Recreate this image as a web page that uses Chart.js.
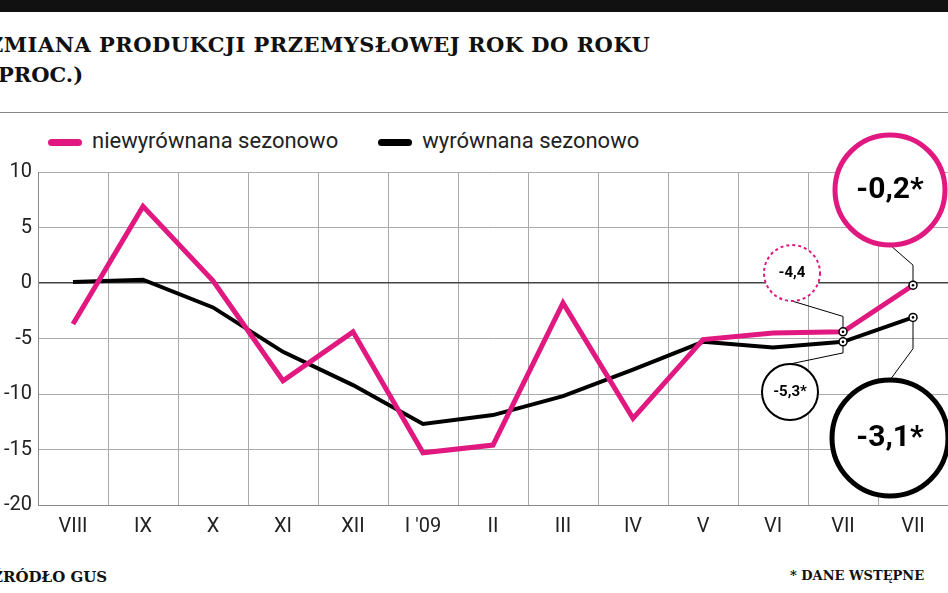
<!DOCTYPE html>
<html><head><meta charset="utf-8">
<script src="https://cdn.jsdelivr.net/npm/chart.js@4"></script>
<style>
body{margin:0;width:948px;height:593px;overflow:hidden;background:#fff;position:relative;font-family:"Liberation Sans Narrow","Roboto Condensed",Roboto,sans-serif}
#bar{position:absolute;left:0;top:0;width:948px;height:12px;background:#111}
.t{position:absolute;font-family:"DejaVu Serif",serif;font-weight:bold;color:#111;white-space:nowrap}
#rule{position:absolute;left:0;top:112px;width:948px;height:1px;background:#888}
#leg{position:absolute;top:128px;left:48px;font-family:Roboto,sans-serif;font-size:22px;color:#222;white-space:nowrap}
.sw{display:inline-block;width:34px;height:7px;border-radius:4px;vertical-align:middle;margin-right:10px}
canvas{position:absolute;left:0;top:0}
</style></head><body>
<div id="bar"></div>
<div class="t" style="left:-12px;top:32px;font-size:21px;letter-spacing:0.5px">ZMIANA PRODUKCJI PRZEMYSŁOWEJ ROK DO ROKU</div>
<div class="t" style="left:-12px;top:62px;font-size:21px">(PROC.)</div>
<div id="rule"></div>
<div id="leg"><span class="sw" style="background:#e0187f"></span>niewyrównana sezonowo<span class="sw" style="background:#000;margin-left:40px"></span>wyrównana sezonowo</div>
<div class="t" style="left:-8px;top:568px;font-size:15px">ŹRÓDŁO GUS</div>
<div class="t" style="left:790px;top:568px;font-size:13px">* DANE WSTĘPNE</div>
<canvas id="c" width="948" height="593"></canvas>
<script>
const categories=["VIII","IX","X","XI","XII","I '09","II","III","IV","V","VI","VII","VII"];
const unadjusted=[-3.7,6.9,0.2,-8.8,-4.4,-15.3,-14.6,-1.8,-12.2,-5.1,-4.5,-4.4,-0.2];
const adjusted=[0.1,0.3,-2.2,-6.2,-9.2,-12.7,-11.9,-10.2,-7.8,-5.3,-5.8,-5.3,-3.1];
const yTicks=[10,5,0,-5,-10,-15,-20];
const notes=[{ds:0,i:11,text:"-4,4",cx:792,cy:273,r:28,color:"#e0187f",dash:true,size:15},
 {ds:1,i:11,text:"-5,3*",cx:790,cy:392,r:28,color:"#000",dash:false,size:15},
 {ds:0,i:12,text:"-0,2*",cx:890,cy:190,r:55,color:"#e0187f",dash:false,size:30},
 {ds:1,i:12,text:"-3,1*",cx:890,cy:438,r:58,color:"#000",dash:false,size:30}];
const ann={id:'ann',afterDatasetsDraw(ch){const c=ch.ctx;
 notes.forEach(n=>{const p=ch.getDatasetMeta(n.ds).data[n.i];c.save();
  c.strokeStyle="#000";c.lineWidth=1;c.beginPath();c.moveTo(p.x,p.y);
  const ey=n.cy>p.y?n.cy-n.r:n.cy+n.r;c.lineTo(p.x,(p.y+ey)/2);c.lineTo(n.cx,ey);c.stroke();
  c.beginPath();c.arc(n.cx,n.cy,n.r,0,7);c.fillStyle="#fff";c.fill();
  c.lineWidth=n.r>40?5:2;c.strokeStyle=n.color;if(n.dash)c.setLineDash([3,3]);c.stroke();c.setLineDash([]);
  c.fillStyle="#000";c.font="bold "+n.size+"px 'Liberation Sans Narrow',Roboto,sans-serif";c.textAlign="center";c.textBaseline="middle";c.fillText(n.text,n.cx,n.cy);
  c.beginPath();c.arc(p.x,p.y,4,0,7);c.fillStyle="#fff";c.fill();c.lineWidth=1.5;c.strokeStyle="#000";c.stroke();
  c.beginPath();c.arc(p.x,p.y,1.3,0,7);c.fillStyle="#000";c.fill();c.restore();});}};
new Chart(document.getElementById('c'),{type:'line',
 data:{labels:categories,datasets:[
  {data:unadjusted,borderColor:"#e0187f",borderWidth:5,pointRadius:0,tension:0},
  {data:adjusted,borderColor:"#000",borderWidth:4,pointRadius:0,tension:0}]},
 options:{responsive:false,animation:false,layout:{padding:{top:172,bottom:48,left:0,right:0}},
  plugins:{legend:{display:false},tooltip:{enabled:false}},
  scales:{x:{offset:true,grid:{offset:true,color:"#aaa",drawTicks:false},border:{color:"#888"},
    ticks:{color:"#222",font:{size:20,family:"'Liberation Sans Narrow',Roboto,sans-serif"},padding:10,maxRotation:0,autoSkip:false},
    afterFit(a){a.height=40}},
   y:{min:-20,max:10,afterBuildTicks(a){a.ticks=yTicks.map(v=>({value:v}))},
    grid:{color:c=>c.tick.value===0?"#444":"#aaa",lineWidth:c=>c.tick.value===0?1.5:1,drawTicks:false},border:{color:"#888"},
    ticks:{color:"#222",font:{size:20,family:"'Liberation Sans Narrow',Roboto,sans-serif"},padding:6},
    afterFit(a){a.width=38}}}},
 plugins:[ann]});
</script></body></html>
